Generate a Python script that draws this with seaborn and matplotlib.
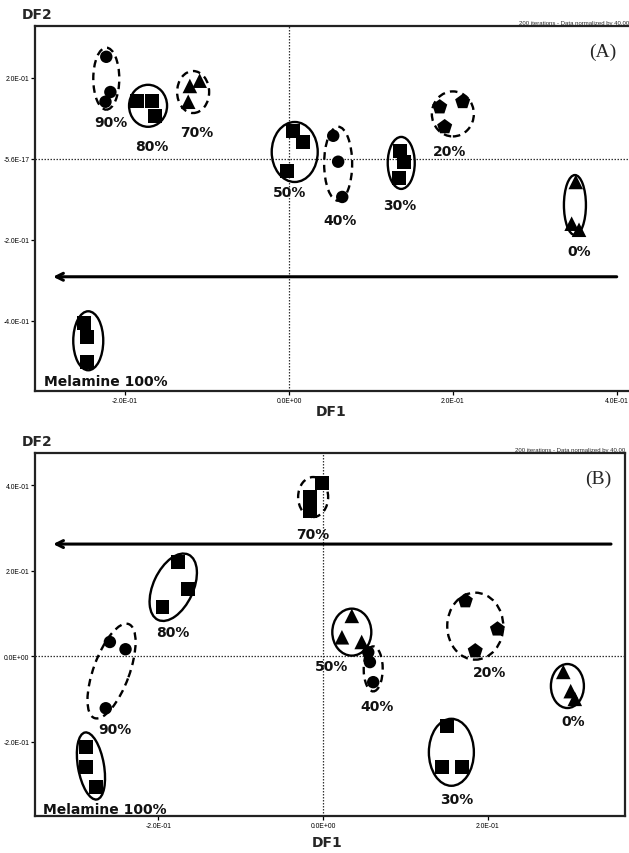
import numpy as np
import pandas as pd
import matplotlib
matplotlib.use("Agg")
import matplotlib.pyplot as plt
import seaborn as sns
from matplotlib.patches import Ellipse
from matplotlib.transforms import ScaledTranslation

# ---------------- data: panel A ----------------
groups_a = ['90%', '80%', '70%', '50%', '40%', '30%', '20%', '0%', 'Melamine 100%']
markers_a = ['o', 's', '^', 's', 'o', 's', 'p', '^', 's']
x_a = [[-0.223, -0.218, -0.224], [-0.185, -0.167, -0.163], [-0.109, -0.121, -0.123],
       [0.005, 0.017, -0.002], [0.054, 0.060, 0.065], [0.135, 0.140, 0.134],
       [0.184, 0.212, 0.190], [0.350, 0.345, 0.354], [-0.250, -0.246, -0.246]]
y_a = [[0.252, 0.165, 0.141], [0.143, 0.143, 0.106], [0.193, 0.180, 0.141],
       [0.069, 0.042, -0.030], [0.057, -0.007, -0.094], [0.020, -0.007, -0.047],
       [0.128, 0.141, 0.079], [-0.057, -0.160, -0.175], [-0.405, -0.440, -0.501]]
# ellipse outlines around groups (center in data units, size in pixels)
ell_cx_a = [-0.223, -0.172, -0.117, 0.007, 0.060, 0.137, 0.200, 0.349, -0.245]
ell_cy_a = [0.198, 0.131, 0.165, 0.017, -0.012, -0.010, 0.111, -0.114, -0.449]
ell_w_a = [26, 38, 32, 46, 28, 27, 42, 22, 30]
ell_h_a = [62, 42, 42, 60, 74, 52, 45, 60, 59]
ell_ang_a = [0, 0, 0, 0, 0, 0, 0, 0, 0]
ell_dash_a = [True, False, True, False, True, False, True, False, False]
lab_x_a = [-0.217, -0.168, -0.113, 0.001, 0.062, 0.135, 0.196, 0.354, -0.223]
lab_y_a = [0.091, 0.032, 0.067, -0.081, -0.151, -0.114, 0.020, -0.227, -0.548]
xlim_a = (-0.310, 0.415)
ylim_a = (-0.573, 0.328)
xticks_a = [-0.2, 0.0, 0.2, 0.4]
xticklabels_a = ['-2.0E-01', '0.0E+00', '2.0E-01', '4.0E-01']
yticks_a = [0.2, 0.0, -0.2, -0.4]
yticklabels_a = ['2.0E-01', '-5.6E-17', '-2.0E-01', '-4.0E-01']
arrow_a = (0.400, -0.288, -0.291)   # x_start, x_end, y

# ---------------- data: panel B ----------------
groups_b = ['70%', '80%', '90%', 'Melamine 100%', '50%', '40%', '20%', '0%', '30%']
markers_b = ['s', 's', 'o', 's', '^', 'o', 'p', '^', 's']
x_b = [[-0.016, -0.016, -0.001], [-0.176, -0.164, -0.195], [-0.259, -0.240, -0.264],
       [-0.288, -0.288, -0.276], [0.035, 0.023, 0.047], [0.055, 0.057, 0.061],
       [0.173, 0.212, 0.185], [0.292, 0.301, 0.306], [0.151, 0.145, 0.169]]
y_b = [[0.372, 0.339, 0.405], [0.220, 0.157, 0.115], [0.033, 0.016, -0.122],
       [-0.213, -0.260, -0.306], [0.094, 0.044, 0.033], [0.009, -0.014, -0.061],
       [0.129, 0.063, 0.012], [-0.037, -0.082, -0.100], [-0.164, -0.260, -0.260]]
ell_cx_b = [-0.012, -0.182, -0.257, -0.282, 0.035, 0.061, 0.185, 0.297, 0.156]
ell_cy_b = [0.372, 0.161, -0.035, -0.257, 0.056, -0.030, 0.070, -0.070, -0.225]
ell_w_b = [30, 72, 100, 68, 39, 19, 56, 33, 45]
ell_h_b = [40, 40, 36, 26, 47, 45, 67, 44, 67]
ell_ang_b = [0, 65, 70, 100, 0, 0, 0, 0, 0]
ell_dash_b = [True, False, True, False, False, True, True, False, False]
lab_x_b = [-0.012, -0.182, -0.253, -0.265, 0.011, 0.066, 0.203, 0.304, 0.162]
lab_y_b = [0.285, 0.056, -0.171, -0.358, -0.023, -0.117, -0.037, -0.152, -0.335]
xlim_b = (-0.350, 0.367)
ylim_b = (-0.374, 0.475)
xticks_b = [-0.2, 0.0, 0.2]
xticklabels_b = ['-2.0E-01', '0.0E+00', '2.0E-01']
yticks_b = [0.4, 0.2, 0.0, -0.2]
yticklabels_b = ['4.0E-01', '2.0E-01', '0.0E+00', '-2.0E-01']
arrow_b = (0.350, -0.328, 0.262)

note_text = '200 iterations - Data normalized by 40.00'
marker_sizes = {'o': 80, 's': 100, '^': 110, 'p': 130}

sns.set_style('white')
plt.rcParams['font.family'] = ['DejaVu Sans']

W, H = 629, 854
fig = plt.figure(figsize=(W / 100, H / 100), dpi=100)
ax_a = fig.add_axes([35 / W, 1 - 392 / H, (629 - 35) / W, (392 - 27) / H])
ax_b = fig.add_axes([35 / W, 1 - 817 / H, (625 - 35) / W, (817 - 454) / H])

tick_font = ['Liberation Sans', 'DejaVu Sans']


def draw_panel(ax, groups, markers, xs, ys, ecx, ecy, ew, eh, eang, edash,
               lx, ly, xlim, ylim, xt, xtl, yt, ytl, arrow, tag, right_spine):
    rows = []
    for g, xx, yy in zip(groups, xs, ys):
        for xv, yv in zip(xx, yy):
            rows.append((g, xv, yv))
    df = pd.DataFrame(rows, columns=['group', 'DF1', 'DF2'])
    mk = dict(zip(groups, markers))
    sz = {g: marker_sizes[m] for g, m in mk.items()}
    ax.set_xlim(*xlim)
    ax.set_ylim(*ylim)
    ax.axvline(0, color='#333333', lw=0.9, ls=(0, (1.2, 1.2)), zorder=1)
    ax.axhline(0, color='#333333', lw=0.9, ls=(0, (1.2, 1.2)), zorder=1)
    sns.scatterplot(data=df, x='DF1', y='DF2', style='group', markers=mk,
                    size='group', sizes=sz, color='black', edgecolor='black',
                    linewidth=0, legend=False, ax=ax, zorder=3)
    for cx, cy, w, h, a, d in zip(ecx, ecy, ew, eh, eang, edash):
        tr = fig.dpi_scale_trans + ScaledTranslation(cx, cy, ax.transData)
        e = Ellipse((0, 0), w / 100, h / 100, angle=a, transform=tr,
                    fill=False, edgecolor='black', lw=1.7,
                    ls=(0, (3.2, 2.2)) if d else '-', zorder=4)
        ax.add_patch(e)
    for g, x0, y0 in zip(groups, lx, ly):
        ax.text(x0, y0, g, ha='center', va='center', fontsize=10,
                fontweight='bold', color='#111111', zorder=5)
    ax.annotate('', xy=(arrow[1], arrow[2]), xytext=(arrow[0], arrow[2]),
                arrowprops=dict(arrowstyle='->,head_length=0.5,head_width=0.25',
                                lw=2.2, color='black', shrinkA=0, shrinkB=0),
                zorder=2)
    ax.set_xticks(xt)
    ax.set_xticklabels(xtl, family=tick_font, fontsize=4.9)
    ax.set_yticks(yt)
    ax.set_yticklabels(ytl, family=tick_font, fontsize=4.9)
    ax.tick_params(axis='both', direction='out', length=3, width=0.9,
                   pad=1.0, colors='black', left=True, bottom=True)
    ax.set_xlabel('')
    ax.set_ylabel('')
    for s in ['left', 'bottom', 'top', 'right']:
        ax.spines[s].set_linewidth(1.6)
        ax.spines[s].set_color('#222222')
    ax.spines['right'].set_visible(right_spine)
    ax.text(0.955, 0.93, tag, transform=ax.transAxes, ha='center', va='center',
            fontsize=14, family=['Liberation Serif', 'DejaVu Serif'])
    ax.grid(False)


draw_panel(ax_a, groups_a, markers_a, x_a, y_a, ell_cx_a, ell_cy_a, ell_w_a,
           ell_h_a, ell_ang_a, ell_dash_a, lab_x_a, lab_y_a, xlim_a, ylim_a,
           xticks_a, xticklabels_a, yticks_a, yticklabels_a, arrow_a, '(A)', False)
draw_panel(ax_b, groups_b, markers_b, x_b, y_b, ell_cx_b, ell_cy_b, ell_w_b,
           ell_h_b, ell_ang_b, ell_dash_b, lab_x_b, lab_y_b, xlim_b, ylim_b,
           xticks_b, xticklabels_b, yticks_b, yticklabels_b, arrow_b, '(B)', True)

# axis titles and notes
fig.text(37 / W, 1 - 15 / H, 'DF2', ha='center', va='center', fontsize=10, fontweight='bold')
fig.text(37 / W, 1 - 442 / H, 'DF2', ha='center', va='center', fontsize=10, fontweight='bold')
fig.text(331 / W, 1 - 412 / H, 'DF1', ha='center', va='center', fontsize=10, fontweight='bold')
fig.text(327 / W, 1 - 843 / H, 'DF1', ha='center', va='center', fontsize=10, fontweight='bold')
fig.text(1.0, 1 - 26 / H, note_text, ha='right', va='bottom', fontsize=4.3,
         family=tick_font)
fig.text(625 / W, 1 - 453 / H, note_text, ha='right', va='bottom', fontsize=4.3,
         family=tick_font)

fig.savefig('out.png', dpi=100)
